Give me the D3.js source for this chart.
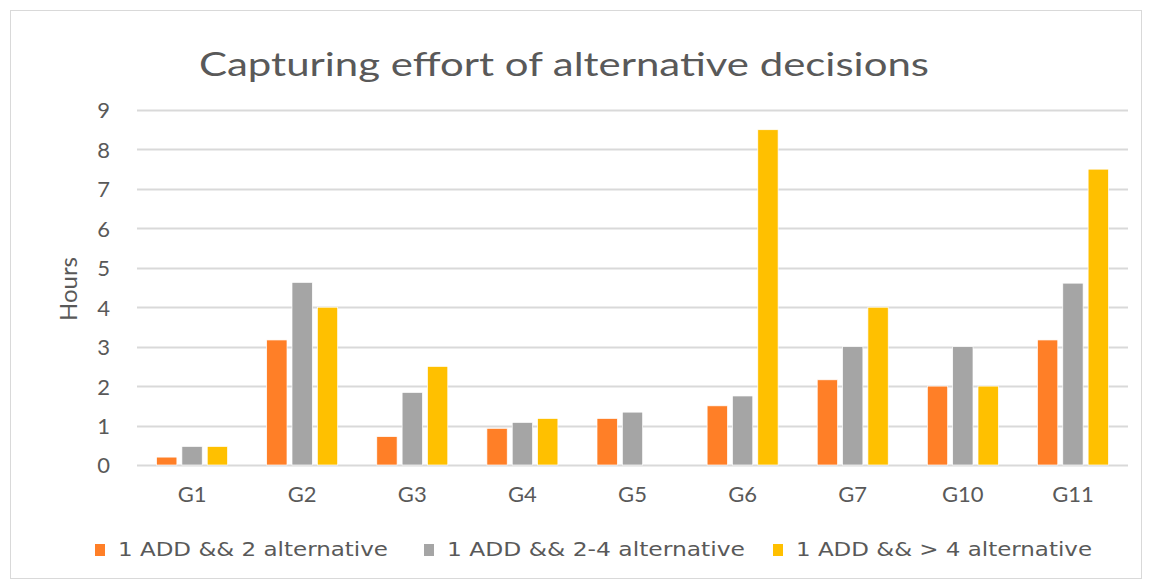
<!DOCTYPE html>
<html><head><meta charset="utf-8">
<script src="https://cdn.jsdelivr.net/npm/d3@7"></script>
<style>body{margin:0;background:#fff;}svg{display:block;font-family:"DejaVu Sans",sans-serif;}</style>
</head><body>
<svg id="c" width="1152" height="581"></svg>
<script>
const categories = ["G1","G2","G3","G4","G5","G6","G7","G10","G11"];
const seriesNames = ["1 ADD && 2 alternative","1 ADD && 2-4 alternative","1 ADD && > 4 alternative"];
const s1 = [0.2, 3.17, 0.72, 0.93, 1.18, 1.5, 2.16, 2.0, 3.17];
const s2 = [0.47, 4.63, 1.84, 1.08, 1.34, 1.75, 3.0, 3.0, 4.61];
const s3 = [0.47, 4.0, 2.5, 1.18, null, 8.5, 4.0, 2.0, 7.5];
const yTicks = [0,1,2,3,4,5,6,7,8,9];
const colors = ["#FF7F27","#A5A5A5","#FFC000"];
const series = [s1,s2,s3];

const svg = d3.select("#c");
svg.append("rect").attr("x",10.5).attr("y",10.5).attr("width",1131).attr("height",568)
  .attr("fill","#fff").attr("stroke","#D9D9D9");

const x = d3.scaleBand().domain(categories).range([137,1128]).paddingInner(0).paddingOuter(0);
const y = d3.scaleLinear().domain([0,9]).range([465,110]);
const xs = d3.scaleBand().domain([0,1,2]).range([0,76]);
const groupOffset = (x.bandwidth()-76)/2;

// gridlines
svg.append("g").selectAll("line").data(yTicks).join("line")
  .attr("x1",137).attr("x2",1128)
  .attr("y1",d=>Math.round(y(d))+0.5).attr("y2",d=>Math.round(y(d))+0.5)
  .attr("stroke","#D9D9D9").attr("stroke-width",2);

// y axis labels
const yAxis = d3.axisLeft(y).tickValues(yTicks).tickSize(0).tickPadding(0);
const ya = svg.append("g").attr("transform","translate(110,0)").call(yAxis);
ya.select(".domain").remove();
ya.selectAll("text").attr("fill","#595959").attr("font-size",22).attr("font-family","Lato").attr("dy","0.36em");

// x axis labels
const xAxis = d3.axisBottom(x).tickSize(0).tickPadding(0);
const xa = svg.append("g").attr("transform","translate(0,502)").call(xAxis);
xa.select(".domain").remove();
xa.selectAll("text").attr("fill","#595959").attr("font-size",22).attr("font-family","Lato").attr("dy","0");

// bars
series.forEach((s,i)=>{
  svg.append("g").selectAll("rect").data(categories.map((c,j)=>({c,v:s[j]})).filter(d=>d.v!=null)).join("rect")
    .attr("x",d=>x(d.c)+groupOffset+xs(i)+2.5)
    .attr("width",xs.bandwidth()-5)
    .attr("y",d=>y(d.v))
    .attr("height",d=>y(0)-y(d.v))
    .attr("fill",colors[i])
    .attr("stroke","#fff").attr("stroke-width",0.7);
});

// title
svg.append("text").attr("x",199).attr("y",76)
  .attr("font-size",32).attr("font-family","Lato").attr("fill","#595959")
  .attr("textLength",730).attr("lengthAdjust","spacingAndGlyphs")
  .text("Capturing effort of alternative decisions");

// y axis title
svg.append("text").attr("transform","translate(77,289) rotate(-90)").attr("text-anchor","middle")
  .attr("font-size",24).attr("font-family","Lato").attr("fill","#595959").text("Hours");

// legend
const legX = [95,424,773];
const legW = [270,298,296];
const lg = svg.append("g").selectAll("g").data(seriesNames).join("g")
  .attr("transform",(d,i)=>`translate(${legX[i]},556)`);
lg.append("rect").attr("x",0).attr("y",-12).attr("width",10).attr("height",12).attr("fill",(d,i)=>colors[i]);
lg.append("text").attr("x",23).attr("y",0).attr("font-size",20)
  .attr("textLength",(d,i)=>legW[i]).attr("lengthAdjust","spacingAndGlyphs")
  .attr("fill","#595959").text(d=>d);
</script>
</body></html>
